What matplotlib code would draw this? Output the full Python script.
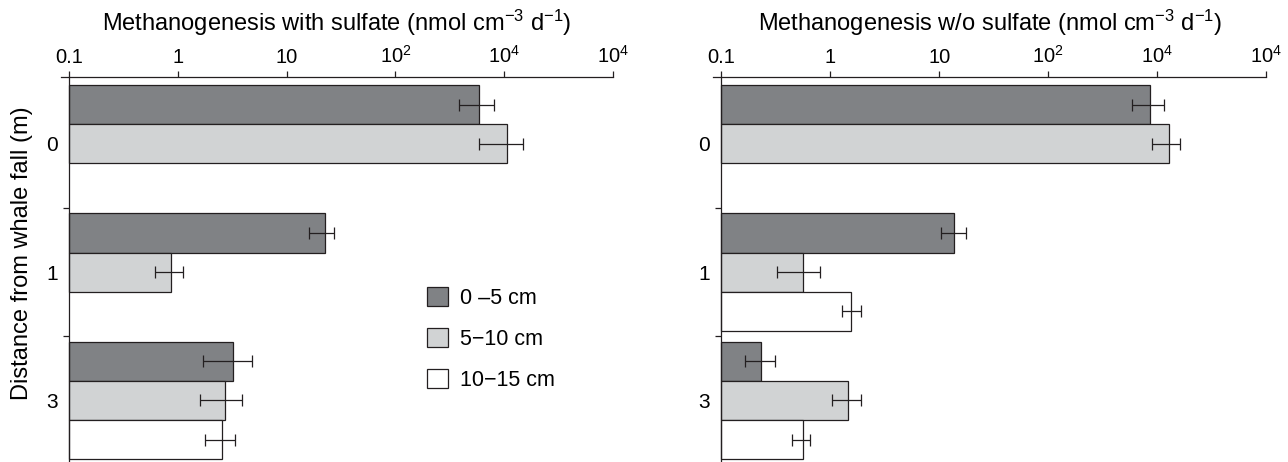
import numpy as np
import matplotlib
matplotlib.use("Agg")
import matplotlib.pyplot as plt
from matplotlib.patches import Patch

plt.rcParams['font.family'] = ['Liberation Sans', 'DejaVu Sans']
plt.rcParams['mathtext.fontset'] = 'custom'
plt.rcParams['mathtext.rm'] = 'Liberation Sans'
plt.rcParams['mathtext.it'] = 'Liberation Sans:italic'

# Distancia a la ballena (m) y capas de sedimento
distances = ['0', '1', '3']
depths = ['0 \u20135 cm', '5\u221210 cm', '10\u221215 cm']

# Metanogénesis con sulfato (nmol cm-3 d-1), filas = profundidad, columnas = distancia
with_sulfate = [
    [592, 22.7, 3.23],
    [1064, 0.867, 2.69],
    [np.nan, np.nan, 2.56],
]
with_sulfate_low = [
    [380, 16.1, 1.69],
    [592, 0.615, 1.60],
    [np.nan, np.nan, 1.77],
]
with_sulfate_high = [
    [807, 27.4, 4.80],
    [1500, 1.117, 3.85],
    [np.nan, np.nan, 3.37],
]

# Metanogénesis sin sulfato
without_sulfate = [
    [859, 13.7, 0.234],
    [1283, 0.562, 1.47],
    [np.nan, 1.55, 0.562],
]
without_sulfate_low = [
    [590, 10.3, 0.164],
    [896, 0.325, 1.03],
    [np.nan, 1.27, 0.450],
]
without_sulfate_high = [
    [1153, 17.4, 0.314],
    [1615, 0.806, 1.90],
    [np.nan, 1.90, 0.653],
]

x_ticks = [0.1, 1, 10, 100, 1000, 10000]
x_ticklabels = ['0.1', '1', '10', '10$^2$', '10$^4$', '10$^4$']

colors = ['#808285', '#d1d3d4', '#ffffff']
edge = '#231f20'
bar_h = 0.305
base = 0.1


def draw_panel(ax, values, low, high, title):
    y = np.arange(len(distances))
    for i in range(len(depths)):
        v = np.array(values[i], dtype=float)
        lo = np.array(low[i], dtype=float)
        hi = np.array(high[i], dtype=float)
        yy = y + (i - 1) * bar_h
        ok = ~np.isnan(v)
        ax.barh(yy[ok], v[ok] - base, left=base, height=bar_h,
                color=colors[i], edgecolor=edge, linewidth=0.9)
        err = np.vstack([v[ok] - lo[ok], hi[ok] - v[ok]])
        ax.errorbar(v[ok], yy[ok], xerr=err, fmt='none', ecolor=edge,
                    elinewidth=0.9, capsize=4, capthick=0.9)

    ax.set_xscale('log')
    ax.set_xlim(10 ** (-1.075), 1e4)
    ax.set_ylim(2.48, -0.52)
    ax.xaxis.set_ticks_position('top')
    ax.xaxis.set_label_position('top')
    ax.set_xticks(x_ticks)
    ax.set_xticklabels(x_ticklabels)
    ax.xaxis.set_minor_locator(matplotlib.ticker.NullLocator())
    ax.tick_params(axis='x', which='major', direction='out', length=4,
                   width=0.9, color=edge, labelsize=14.5, pad=3.5)
    ax.set_xlabel(title, fontsize=17)
    ax.xaxis.set_label_coords(0.5, 1.12)

    ax.set_yticks(y)
    ax.set_yticklabels(distances)
    ax.set_yticks([0.5, 1.5], minor=True)
    ax.tick_params(axis='y', which='major', length=0, labelsize=15, pad=8)
    ax.tick_params(axis='y', which='minor', direction='out', length=4,
                   width=0.9, color=edge)

    ax.spines['right'].set_visible(False)
    ax.spines['bottom'].set_visible(False)
    ax.spines['left'].set_position(('data', base))
    for s in ['top', 'left']:
        ax.spines[s].set_color(edge)
        ax.spines[s].set_linewidth(0.9)


fig = plt.figure(figsize=(12.88, 4.62), dpi=100)
ax1 = fig.add_axes([0.0474, 0.0, 0.4285, 0.8333])
ax2 = fig.add_axes([0.5536, 0.0, 0.4296, 0.8333])

draw_panel(ax1, with_sulfate, with_sulfate_low, with_sulfate_high,
           'Methanogenesis with sulfate (nmol cm$^{\u22123}$ d$^{\u22121}$)')
draw_panel(ax2, without_sulfate, without_sulfate_low, without_sulfate_high,
           'Methanogenesis w/o sulfate (nmol cm$^{\u22123}$ d$^{\u22121}$)')

ax1.set_ylabel('Distance from whale fall (m)', fontsize=17)
ax1.yaxis.set_label_coords(-0.050, 0.543)

handles = [Patch(facecolor=c, edgecolor=edge, linewidth=0.9) for c in colors]
ax1.legend(handles, depths, loc='upper left', bbox_to_anchor=(0.3315, 0.0, 1, 0.379),
           bbox_transform=fig.transFigure, frameon=False, fontsize=15.5,
           handlelength=0.98, handleheight=0.98, handletextpad=0.55,
           labelspacing=0.89, borderaxespad=0, borderpad=0)

plt.savefig('out.png', dpi=100)
